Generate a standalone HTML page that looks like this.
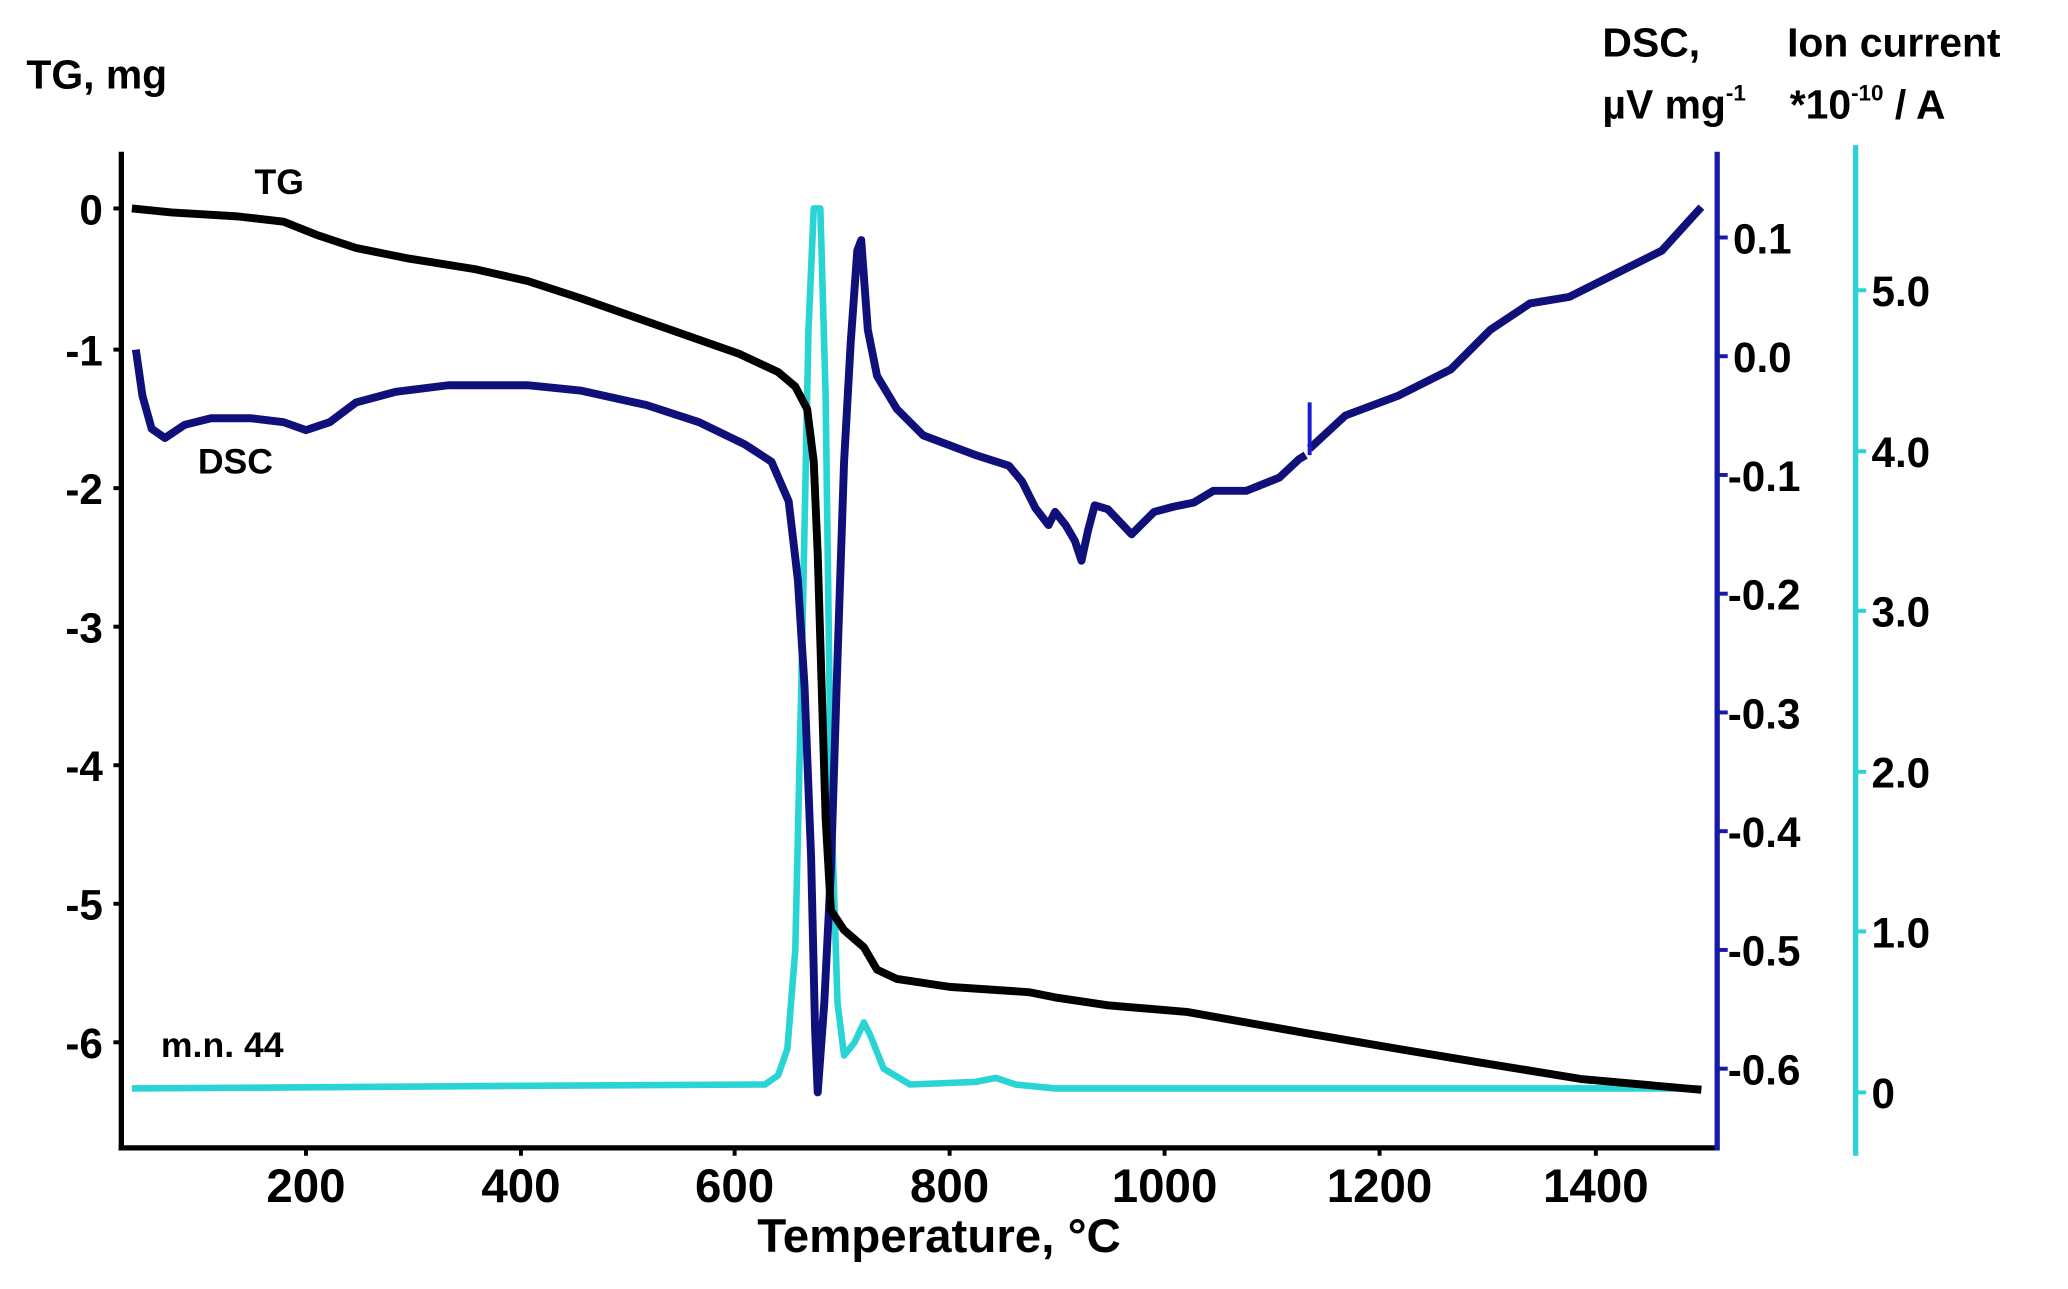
<!DOCTYPE html>
<html><head><meta charset="utf-8"><style>
html,body{margin:0;padding:0;background:#fff;}
svg{display:block;}
text{font-family:"Liberation Sans",Arial,sans-serif;font-weight:bold;fill:#000;}
</style></head><body>
<svg width="2068" height="1289" viewBox="0 0 1568 977" preserveAspectRatio="none" xmlns="http://www.w3.org/2000/svg">
<rect width="1568" height="977" fill="#fff"/>
<line x1="92" y1="115" x2="92" y2="872" stroke="#000" stroke-width="4"/>
<line x1="90" y1="870" x2="1302" y2="870" stroke="#000" stroke-width="4"/>
<line x1="1302" y1="115" x2="1302" y2="872" stroke="#1a1aa8" stroke-width="4"/>
<line x1="1407" y1="110" x2="1407" y2="876" stroke="#2ad4d4" stroke-width="4"/>
<g stroke="#000" stroke-width="3">
<line x1="86" y1="158" x2="92" y2="158"/><line x1="86" y1="265" x2="92" y2="265"/><line x1="86" y1="370" x2="92" y2="370"/>
<line x1="86" y1="475" x2="92" y2="475"/><line x1="86" y1="580" x2="92" y2="580"/><line x1="86" y1="685" x2="92" y2="685"/><line x1="86" y1="790" x2="92" y2="790"/>
<line x1="232" y1="870" x2="232" y2="876"/><line x1="395" y1="870" x2="395" y2="876"/><line x1="557" y1="870" x2="557" y2="876"/>
<line x1="720" y1="870" x2="720" y2="876"/><line x1="883" y1="870" x2="883" y2="876"/><line x1="1046" y1="870" x2="1046" y2="876"/><line x1="1210" y1="870" x2="1210" y2="876"/>
</g>
<g stroke="#1a1aa8" stroke-width="3">
<line x1="1302" y1="180" x2="1310" y2="180"/><line x1="1302" y1="270" x2="1310" y2="270"/><line x1="1302" y1="360" x2="1310" y2="360"/>
<line x1="1302" y1="450" x2="1310" y2="450"/><line x1="1302" y1="540" x2="1310" y2="540"/><line x1="1302" y1="630" x2="1310" y2="630"/>
<line x1="1302" y1="720" x2="1310" y2="720"/><line x1="1302" y1="810" x2="1310" y2="810"/>
</g>
<g stroke="#2ad4d4" stroke-width="3">
<line x1="1407" y1="220" x2="1415" y2="220"/><line x1="1407" y1="342" x2="1415" y2="342"/><line x1="1407" y1="463" x2="1415" y2="463"/>
<line x1="1407" y1="585" x2="1415" y2="585"/><line x1="1407" y1="706" x2="1415" y2="706"/><line x1="1407" y1="828" x2="1415" y2="828"/>
</g>
<g font-size="32" text-anchor="end">
<text x="78" y="170">0</text><text x="78" y="277">-1</text><text x="78" y="382">-2</text><text x="78" y="487">-3</text>
<text x="78" y="592">-4</text><text x="78" y="697">-5</text><text x="78" y="802">-6</text>
</g>
<g font-size="32">
<text x="1314" y="192">0.1</text><text x="1314" y="282">0.0</text><text x="1310" y="372">-0.1</text><text x="1310" y="462">-0.2</text>
<text x="1310" y="552">-0.3</text><text x="1310" y="642">-0.4</text><text x="1310" y="732">-0.5</text><text x="1310" y="822">-0.6</text>
<text x="1419" y="232">5.0</text><text x="1419" y="354">4.0</text><text x="1419" y="475">3.0</text><text x="1419" y="597">2.0</text>
<text x="1419" y="718">1.0</text><text x="1419" y="840">0</text>
</g>
<g font-size="36" text-anchor="middle">
<text x="232" y="911">200</text><text x="395" y="911">400</text><text x="557" y="911">600</text><text x="720" y="911">800</text>
<text x="883" y="911">1000</text><text x="1046" y="911">1200</text><text x="1210" y="911">1400</text>
<text x="712" y="949">Temperature, °C</text>
</g>
<text x="20" y="67" font-size="31">TG, mg</text>
<text x="1215" y="43" font-size="31">DSC,</text>
<text x="1215" y="90" font-size="31">µV mg<tspan font-size="17" dy="-14">-1</tspan></text>
<text x="1355" y="43" font-size="31">Ion current</text>
<text x="1357" y="90" font-size="31">*10<tspan font-size="17" dy="-14">-10</tspan><tspan dy="14"> / A</tspan></text>
<text x="193" y="147" font-size="27">TG</text>
<text x="150" y="359" font-size="27">DSC</text>
<text x="122" y="801" font-size="27">m.n. 44</text>
<polyline fill="none" stroke="#2ad4d4" stroke-width="5" stroke-linejoin="round" points="100,825 400,823 580,822 590,815 597,795 603,720 608,500 613,250 617,158 622,158 626,300 630,600 635,760 640,800 648,790 655,775 660,785 670,810 690,822 740,820 755,817 770,822 800,825 1290,825"/>
<polyline fill="none" stroke="#10107a" stroke-width="6" stroke-linejoin="round" points="103,265 108,300 115,325 125,332 140,322 160,317 190,317 215,320 232,326 250,320 270,305 300,297 340,292 400,292 440,296 490,307 530,320 565,337 585,350 598,380 605,440 610,520 615,650 618,780 620,828 625,760 630,660 635,500 640,350 645,260 650,190 653,182 658,250 665,285 680,310 700,330 740,345 765,353 775,365 785,385 795,398 800,388 808,398 815,410 820,425 825,402 830,383 840,386 858,405 875,388 890,384 905,381 920,372 945,372 970,362 985,348 990,345"/>
<polyline fill="none" stroke="#10107a" stroke-width="6" stroke-linejoin="round" points="993,340 1020,315 1060,300 1100,280 1130,250 1160,230 1190,225 1230,205 1260,190 1290,157"/>
<line x1="993" y1="305" x2="993" y2="345" stroke="#1a1ad0" stroke-width="3"/>
<polyline fill="none" stroke="#000" stroke-width="6" stroke-linejoin="round" points="100,158 130,161 180,164 215,168 240,178 270,188 310,196 360,204 400,213 440,226 500,247 560,268 590,282 603,293 612,310 617,350 620,420 623,520 626,620 630,690 640,705 655,718 665,735 680,742 720,748 780,752 800,756 840,762 900,767 990,783 1060,795 1120,805 1200,818 1290,826"/>
</svg>
</body></html>
